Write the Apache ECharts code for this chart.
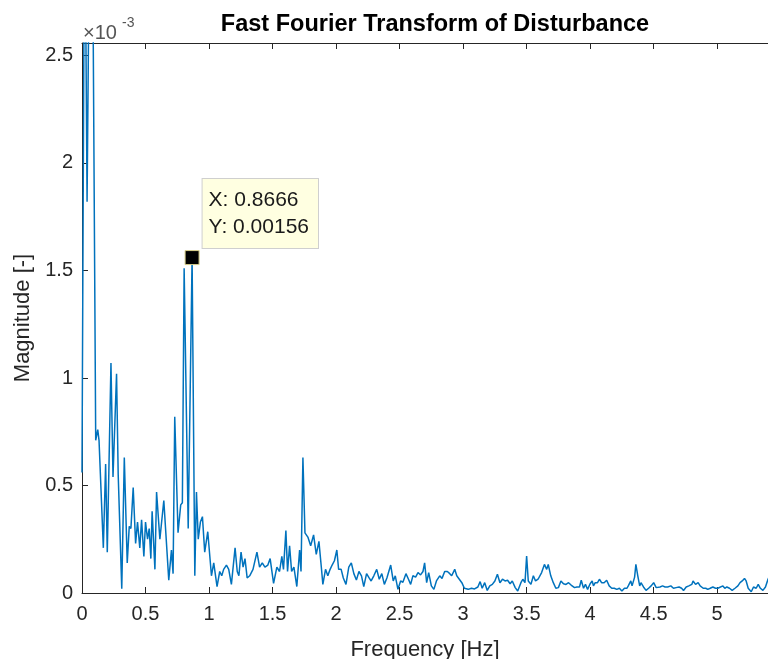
<!DOCTYPE html>
<html>
<head>
<meta charset="utf-8">
<script src="https://cdn.jsdelivr.net/npm/echarts@6/dist/echarts.min.js"></script>
<style>html,body{margin:0;padding:0;background:#fff}#chart{width:768px;height:659px}</style>
</head>
<body>
<div id="chart"></div>
<script>
// Frequency [Hz]
var freq = [
0.000,0.021,0.040,0.066,0.088,0.108,0.124,0.134,0.168,0.186,0.199,0.228,0.244,0.272,0.285,0.313,
0.333,0.356,0.372,0.385,0.403,0.422,0.437,0.455,0.469,0.487,0.500,0.516,0.529,0.542,0.552,0.574,
0.587,0.613,0.644,0.683,0.704,0.717,0.730,0.756,0.777,0.790,0.804,0.836,0.8666,0.888,0.901,0.915,
0.932,0.948,0.966,0.990,1.019,1.037,1.063,1.084,1.100,1.115,1.137,1.155,1.176,1.205,1.222,1.235,
1.252,1.268,1.283,1.300,1.320,1.346,1.377,1.398,1.419,1.440,1.463,1.481,1.508,1.534,1.555,1.573,
1.586,1.605,1.618,1.634,1.650,1.668,1.691,1.713,1.724,1.739,1.755,1.778,1.800,1.823,1.844,1.865,
1.884,1.896,1.917,1.935,1.953,1.969,1.987,2.006,2.020,2.040,2.057,2.078,2.100,2.120,2.140,2.160,
2.180,2.200,2.218,2.240,2.260,2.276,2.297,2.320,2.340,2.360,2.380,2.400,2.430,2.450,2.466,2.487,
2.508,2.526,2.550,2.570,2.587,2.605,2.626,2.645,2.665,2.684,2.697,2.713,2.729,2.750,2.770,2.790,
2.816,2.834,2.855,2.876,2.895,2.910,2.934,2.950,2.970,2.990,3.010,3.040,3.066,3.090,3.116,3.134,
3.150,3.170,3.190,3.210,3.230,3.250,3.270,3.290,3.310,3.330,3.350,3.370,3.387,3.410,3.430,3.455,
3.470,3.487,3.500,3.513,3.534,3.553,3.570,3.590,3.618,3.640,3.658,3.670,3.690,3.710,3.730,3.750,
3.770,3.790,3.810,3.830,3.850,3.877,3.895,3.916,3.930,3.948,3.963,3.980,4.000,4.016,4.026,4.040,
4.058,4.073,4.090,4.110,4.130,4.150,4.170,4.190,4.210,4.230,4.250,4.270,4.290,4.300,4.320,4.330,
4.350,4.360,4.375,4.390,4.400,4.420,4.440,4.460,4.480,4.500,4.520,4.535,4.550,4.570,4.590,4.610,
4.635,4.656,4.677,4.700,4.720,4.735,4.756,4.777,4.800,4.810,4.830,4.850,4.866,4.890,4.910,4.926,
4.945,4.966,4.987,5.005,5.020,5.045,5.060,5.076,5.097,5.118,5.140,5.163,5.180,5.197,5.215,5.228,
5.244,5.268,5.286,5.307,5.323,5.340,5.360,5.380,5.400,5.420
];
// Magnitude, in units of 1e-3
var magnitude = [
0.56,3.40,1.82,3.60,2.62,0.71,0.76,0.71,0.21,0.60,0.19,1.07,0.54,1.02,0.55,0.02,
0.63,0.14,0.31,0.30,0.49,0.23,0.33,0.21,0.34,0.17,0.33,0.25,0.30,0.16,0.38,0.11,
0.47,0.25,0.43,0.06,0.20,0.09,0.82,0.28,0.41,0.42,1.51,0.30,1.56,0.08,0.47,0.25,
0.33,0.355,0.19,0.285,0.08,0.14,0.03,0.10,0.08,0.11,0.13,0.11,0.04,0.21,0.10,0.08,
0.19,0.12,0.16,0.07,0.08,0.11,0.19,0.12,0.14,0.12,0.13,0.16,0.045,0.12,0.10,0.17,
0.11,0.29,0.10,0.22,0.10,0.12,0.03,0.20,0.10,0.63,0.28,0.26,0.22,0.27,0.18,0.24,
0.12,0.04,0.11,0.08,0.11,0.13,0.15,0.20,0.11,0.11,0.07,0.04,0.12,0.14,0.09,0.06,
0.10,0.08,0.03,0.09,0.07,0.056,0.08,0.11,0.064,0.09,0.04,0.07,0.13,0.056,0.08,0.017,
0.056,0.05,0.09,0.064,0.04,0.08,0.074,0.095,0.084,0.10,0.14,0.048,0.095,0.033,0.017,0.056,
0.08,0.068,0.10,0.10,0.09,0.08,0.11,0.08,0.064,0.048,0.022,0.017,0.022,0.019,0.028,0.053,
0.022,0.048,0.012,0.033,0.04,0.056,0.087,0.048,0.064,0.056,0.059,0.043,0.056,0.025,0.009,0.048,
0.064,0.048,0.172,0.056,0.04,0.08,0.056,0.064,0.095,0.133,0.11,0.133,0.08,0.048,0.022,0.025,
0.056,0.043,0.04,0.048,0.037,0.025,0.028,0.028,0.059,0.022,0.04,0.017,0.043,0.056,0.033,0.048,
0.048,0.064,0.048,0.048,0.059,0.033,0.022,0.022,0.017,0.022,0.009,0.022,0.022,0.033,0.056,0.033,
0.074,0.133,0.08,0.033,0.048,0.028,0.012,0.022,0.033,0.048,0.025,0.033,0.028,0.033,0.028,0.028,
0.033,0.022,0.025,0.028,0.022,0.012,0.028,0.033,0.04,0.056,0.04,0.048,0.033,0.022,0.022,0.017,
0.022,0.028,0.022,0.022,0.028,0.033,0.022,0.028,0.022,0.012,0.022,0.033,0.048,0.056,0.068,0.056,
0.022,0.006,0.028,0.022,0.04,0.022,0.012,0.028,0.064,0.09
];
// Data tip
var tipFreq = 0.8666;
var tipMagnitude = 1.56;
var xTicks = [0,0.5,1,1.5,2,2.5,3,3.5,4,4.5,5];
var yTicks = [0,0.5,1,1.5,2,2.5];

var FONT = "'Liberation Sans', Arial, Helvetica, sans-serif";
var AX = '#262626';
var lineData = freq.map(function (f, i) { return [f, magnitude[i]]; });

function tickFmt(list) {
  return function (v) {
    for (var i = 0; i < list.length; i++) if (Math.abs(list[i] - v) < 1e-9) return String(list[i]);
    return '';
  };
}

var chart = echarts.init(document.getElementById('chart'), null, {renderer: 'canvas'});
chart.setOption({
  animation: false,
  backgroundColor: '#fff',
  title: {
    text: 'Fast Fourier Transform of Disturbance',
    left: 430, top: 8, textAlign: 'center',
    textStyle: {fontFamily: FONT, fontWeight: 'bold', fontSize: 23.5, color: '#000'}
  },
  grid: {left: 82, right: 0, top: 43, bottom: 66, containLabel: false, outerBoundsMode: 'none'},
  xAxis: [{
    type: 'value', min: 0, max: 5.4, interval: 0.5, position: 'bottom',
    name: 'Frequency [Hz]', nameLocation: 'middle', nameGap: 46,
    nameTextStyle: {fontFamily: FONT, fontSize: 22, color: AX},
    axisLine: {show: true, lineStyle: {color: AX, width: 1}},
    axisTick: {show: true, inside: true, length: 6, lineStyle: {color: AX}},
    axisLabel: {fontFamily: FONT, fontSize: 20, color: AX, margin: 11, formatter: tickFmt(xTicks), showMaxLabel: true},
    splitLine: {show: false}
  }, {
    type: 'value', min: 0, max: 5.4, interval: 0.5, position: 'top',
    axisLine: {show: true, onZero: false, lineStyle: {color: AX, width: 1}},
    axisTick: {show: true, inside: true, length: 6, lineStyle: {color: AX}},
    axisLabel: {show: false},
    splitLine: {show: false}
  }],
  yAxis: {
    type: 'value', min: 0, max: 2.558, interval: 0.5,
    name: 'Magnitude [-]', nameLocation: 'middle', nameGap: 46,
    nameTextStyle: {fontFamily: FONT, fontSize: 22, color: AX},
    axisLine: {show: true, lineStyle: {color: AX, width: 1}},
    axisTick: {show: true, inside: true, length: 6, lineStyle: {color: AX}},
    axisLabel: {fontFamily: FONT, fontSize: 20, color: AX, margin: 9, formatter: tickFmt(yTicks)},
    splitLine: {show: false}
  },
  graphic: [
    {type: 'text', left: 83, top: 23, style: {text: '\u00d710', font: '20px ' + FONT, fill: '#555'}},
    {type: 'text', left: 122, top: 16, style: {text: '-3', font: '14px ' + FONT, fill: '#555'}}
  ],
  series: [{
    type: 'line', xAxisIndex: 0, data: lineData, showSymbol: false, symbol: 'none',
    lineStyle: {color: '#0072BD', width: 1.5}, clip: true, z: 2
  }, {
    type: 'scatter', xAxisIndex: 0, data: [[tipFreq, tipMagnitude]],
    symbol: 'rect', symbolSize: 14,
    itemStyle: {color: '#000', opacity: 1, borderColor: '#d9d08a', borderWidth: 1},
    z: 5,
    label: {
      show: true, position: [18, -71],
      formatter: function (p) {
        return 'X: ' + p.value[0].toFixed(4) + '\nY: ' + (p.value[1] * 1e-3).toPrecision(3);
      },
      fontFamily: FONT, fontSize: 21, color: '#1a1a1a', lineHeight: 27,
      backgroundColor: '#FFFFE1', borderColor: '#CFCFCF', borderWidth: 1,
      padding: [8, 9, 7, 6], align: 'left', verticalAlign: 'top'
    }
  }]
});
</script>
</body>
</html>
